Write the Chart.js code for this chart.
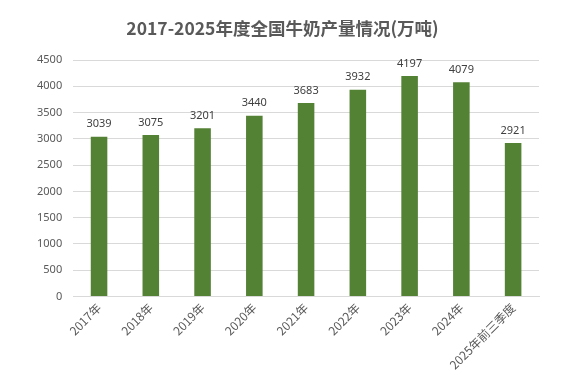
<!DOCTYPE html>
<html>
<head>
<meta charset="utf-8">
<script src="https://cdn.jsdelivr.net/npm/chart.js@4/dist/chart.umd.min.js"></script>
<style>
html,body{margin:0;padding:0;background:#fff;}
#wrap{width:572px;height:376px;}
</style>
</head>
<body>
<div id="wrap"><canvas id="c" width="572" height="376"></canvas></div>
<script>
const categories = ["2017年","2018年","2019年","2020年","2021年","2022年","2023年","2024年","2025年前三季度"];
const production = [3039,3075,3201,3440,3683,3932,4197,4079,2921];
const yTicks = [0,500,1000,1500,2000,2500,3000,3500,4000,4500];
const titleText = "2017-2025年度全国牛奶产量情况(万吨)";

const labelPlugin = {
  id: 'valueLabels',
  afterDatasetsDraw(chart){
    const ctx = chart.ctx;
    const meta = chart.getDatasetMeta(0);
    ctx.save();
    ctx.font = '11px "Noto Sans", "DejaVu Sans", sans-serif';
    ctx.fillStyle = '#404040';
    ctx.textAlign = 'center';
    ctx.textBaseline = 'bottom';
    meta.data.forEach((bar, i) => {
      ctx.fillText(String(production[i]), bar.x, bar.y - 7);
    });
    ctx.restore();
  }
};

new Chart(document.getElementById('c'), {
  type: 'bar',
  data: {
    labels: categories,
    datasets: [{
      data: production,
      backgroundColor: '#548235',
      borderWidth: 0,
      categoryPercentage: 1,
      barPercentage: 0.32
    }]
  },
  options: {
    responsive: false,
    animation: false,
    devicePixelRatio: 1,
    layout: { padding: { left: 26, right: 33, top: 12, bottom: 0 } },
    plugins: {
      legend: { display: false },
      tooltip: { enabled: false },
      title: {
        display: true,
        text: titleText,
        color: '#595959',
        font: { family: '"Noto Sans CJK SC", "Noto Sans", sans-serif', size: 17.5, weight: 'bold' },
        padding: { top: 6, bottom: 21 }
      }
    },
    scales: {
      x: {
        grid: { display: false, drawTicks: false },
        border: { display: true, color: '#d9d9d9' },
        ticks: {
          color: '#595959',
          font: { family: '"Noto Sans CJK SC", "Noto Sans", sans-serif', size: 12 },
          minRotation: 45, maxRotation: 45, padding: 4,
          autoSkip: false
        }
      },
      y: {
        min: 0, max: 4500,
        afterBuildTicks(scale){ scale.ticks = yTicks.map(v => ({ value: v })); },
        grid: { color: '#d9d9d9', drawTicks: false },
        border: { display: false },
        ticks: {
          color: '#595959',
          font: { family: '"Noto Sans", "DejaVu Sans", sans-serif', size: 11 },
          padding: 11,
          callback: (v) => String(v)
        }
      }
    }
  },
  plugins: [labelPlugin]
});
</script>
</body>
</html>
